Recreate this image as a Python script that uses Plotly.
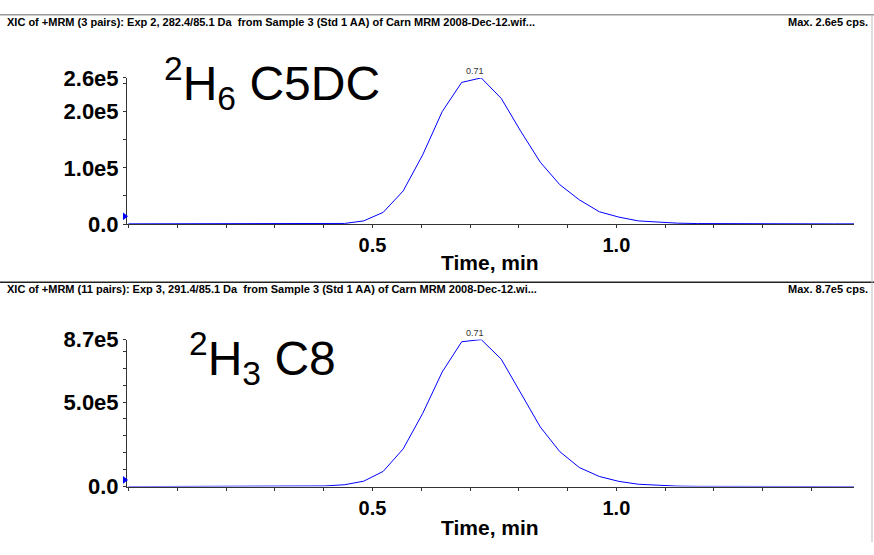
import plotly.graph_objects as go

# ---------------- data ----------------
time_min = [0.000, 0.040, 0.080, 0.120, 0.161, 0.201, 0.241, 0.281, 0.321, 0.362,
            0.402, 0.443, 0.482, 0.522, 0.563, 0.603, 0.643, 0.683, 0.723, 0.764,
            0.804, 0.844, 0.884, 0.924, 0.965, 1.005, 1.045, 1.085, 1.125, 1.166,
            1.206, 1.246, 1.286, 1.326, 1.367, 1.407, 1.447, 1.487]

c5dc_cps = [300, 300, 250, 300, 250, 300, 300, 250, 300, 350,
            500, 1000, 5500, 20700, 58800, 123000, 200000, 252000, 260000, 223500,
            165000, 110000, 70000, 43000, 21800, 12300, 5500, 3000, 1500, 800,
            500, 400, 300, 300, 250, 300, 250, 300]

c8_cps = [0, 0, 0, 0, 0, 0, 0, 0, 500, 2000,
          4000, 11000, 32000, 90000, 223000, 433000, 678000, 857000, 870000, 754000,
          552000, 353000, 207000, 113000, 60000, 31000, 14000, 7000, 3000, 1500,
          800, 600, 500, 400, 400, 300, 300, 300]

top_header = "XIC of +MRM (3 pairs): Exp 2, 282.4/85.1 Da  from Sample 3 (Std 1 AA) of Carn MRM 2008-Dec-12.wif..."
bot_header = "XIC of +MRM (11 pairs): Exp 3, 291.4/85.1 Da  from Sample 3 (Std 1 AA) of Carn MRM 2008-Dec-12.wi..."
top_max = "Max. 2.6e5 cps."
bot_max = "Max. 8.7e5 cps."
top_label = "<sup>2</sup>H<sub>6</sub> C5DC"
bot_label = "<sup>2</sup>H<sub>3</sub> C8"
apex_time = 0.71

top_yticks = [0, 100000, 200000, 260000]
top_yticktext = ["0.0", "1.0e5", "2.0e5", "2.6e5"]
bot_yticks = [0, 500000, 870000]
bot_yticktext = ["0.0", "5.0e5", "8.7e5"]
xticks = [0.5, 1.0]
xticktext = ["0.5", "1.0"]

# ---------------- layout helpers ----------------
W, H = 874, 555
def px(x):
    return x / W
def py(y):
    return 1 - y / H

FONT = "Liberation Sans, Arial, sans-serif"
NARROW = "Liberation Sans Narrow, Arial Narrow, Liberation Sans, Arial, sans-serif"
AX = "#333333"
BLUE = "#0000ff"

fig = go.Figure()
fig.add_trace(go.Scatter(x=time_min, y=c5dc_cps, mode="lines",
                         line=dict(color=BLUE, width=1), xaxis="x", yaxis="y",
                         showlegend=False, hoverinfo="x+y"))
fig.add_trace(go.Scatter(x=time_min, y=c8_cps, mode="lines",
                         line=dict(color=BLUE, width=1), xaxis="x2", yaxis="y2",
                         showlegend=False, hoverinfo="x+y"))

xdom = [px(127), px(854)]
xrange = [-0.003, 1.487]

def xaxis_cfg(anchor):
    return dict(domain=xdom, range=xrange, anchor=anchor,
                showline=True, linecolor=AX, linewidth=1,
                ticks="outside", ticklen=3, tickcolor=AX,
                tickmode="array", tickvals=xticks, ticktext=xticktext,
                tickfont=dict(family=FONT, size=20, color="black", weight="bold"),
                minor=dict(ticks="outside", ticklen=3, tickcolor=AX, dtick=0.1, tick0=0),
                showgrid=False, zeroline=False, fixedrange=True)

def yaxis_cfg(anchor, dom, rng, tv, tt, mdt):
    return dict(domain=dom, range=rng, anchor=anchor,
                showline=True, linecolor=AX, linewidth=1,
                ticks="outside", ticklen=3, tickcolor=AX,
                tickmode="array", tickvals=tv, ticktext=tt,
                tickfont=dict(family=FONT, size=22, color="black", weight="bold"),
                minor=dict(ticks="outside", ticklen=3, tickcolor=AX, dtick=mdt, tick0=0),
                showgrid=False, zeroline=False, fixedrange=True)

fig.update_layout(
    width=W, height=H,
    margin=dict(l=0, r=0, t=0, b=0),
    paper_bgcolor="white", plot_bgcolor="white",
    xaxis=xaxis_cfg("y"),
    yaxis=yaxis_cfg("x", [py(222), py(69)], [0, max(c5dc_cps)], top_yticks, top_yticktext, 50000),
    xaxis2=xaxis_cfg("y2"),
    yaxis2=yaxis_cfg("x2", [py(497), py(343)], [0, max(c8_cps)], bot_yticks, bot_yticktext, 100000),
    showlegend=False,
)

ann = []
hfont = dict(family=NARROW, size=11, color="black", weight="bold")
# headers
ann.append(dict(x=px(5), y=py(10), xref="paper", yref="paper", xanchor="left", yanchor="middle",
                text=top_header, showarrow=False, font=hfont))
ann.append(dict(x=px(870), y=py(10), xref="paper", yref="paper", xanchor="right", yanchor="middle",
                text=top_max, showarrow=False, font=hfont))
ann.append(dict(x=px(5), y=py(290), xref="paper", yref="paper", xanchor="left", yanchor="middle",
                text=bot_header, showarrow=False, font=hfont))
ann.append(dict(x=px(870), y=py(290), xref="paper", yref="paper", xanchor="right", yanchor="middle",
                text=bot_max, showarrow=False, font=hfont))
# axis titles
for yy in (262, 540):
    ann.append(dict(x=px(490), y=py(yy), xref="paper", yref="paper", xanchor="center", yanchor="middle",
                    text="Time, min", showarrow=False,
                    font=dict(family=FONT, size=21, color="black", weight="bold")))
# compound labels
ann.append(dict(x=px(162), y=py(75), xref="paper", yref="paper", xanchor="left", yanchor="middle",
                text=top_label, showarrow=False,
                font=dict(family=FONT, size=48, color="black")))
ann.append(dict(x=px(187), y=py(363), xref="paper", yref="paper", xanchor="left", yanchor="middle",
                text=bot_label, showarrow=False,
                font=dict(family=FONT, size=48, color="black")))
# apex labels
ann.append(dict(x=apex_time, y=max(c5dc_cps), xref="x", yref="y", xanchor="center", yanchor="bottom",
                text=f"{apex_time:.2f}", showarrow=False,
                font=dict(family=FONT, size=9, color="#333333")))
ann.append(dict(x=apex_time, y=max(c8_cps), xref="x2", yref="y2", xanchor="center", yanchor="bottom",
                text=f"{apex_time:.2f}", showarrow=False,
                font=dict(family=FONT, size=9, color="#333333")))
fig.update_layout(annotations=ann)

shapes = []
# frame lines
shapes.append(dict(type="line", xref="paper", yref="paper", x0=0, x1=1, y0=py(3), y1=py(3),
                   line=dict(color="#999999", width=1.5)))
shapes.append(dict(type="line", xref="paper", yref="paper", x0=0, x1=1, y0=py(283), y1=py(283),
                   line=dict(color="#222222", width=1.5)))
shapes.append(dict(type="line", xref="paper", yref="paper", x0=px(872), x1=px(872), y0=0, y1=py(3),
                   line=dict(color="#bbbbbb", width=1)))
# threshold markers (small blue triangles at the y axes)
for yc in (214, 490):
    pts = [(123, yc - 4), (128, yc), (123, yc + 4)]
    path = "M {} {} L {} {} L {} {} Z".format(*[v for p in pts for v in (px(p[0]), py(p[1]))])
    shapes.append(dict(type="path", xref="paper", yref="paper", path=path,
                       fillcolor=BLUE, line=dict(color=BLUE, width=0)))
fig.update_layout(shapes=shapes)

fig.write_html("out.html",
               config={"displayModeBar": False, "staticPlot": False},
               post_script="document.body.style.margin='0';document.body.style.padding='0';"
                           "document.documentElement.style.overflow='hidden';")
